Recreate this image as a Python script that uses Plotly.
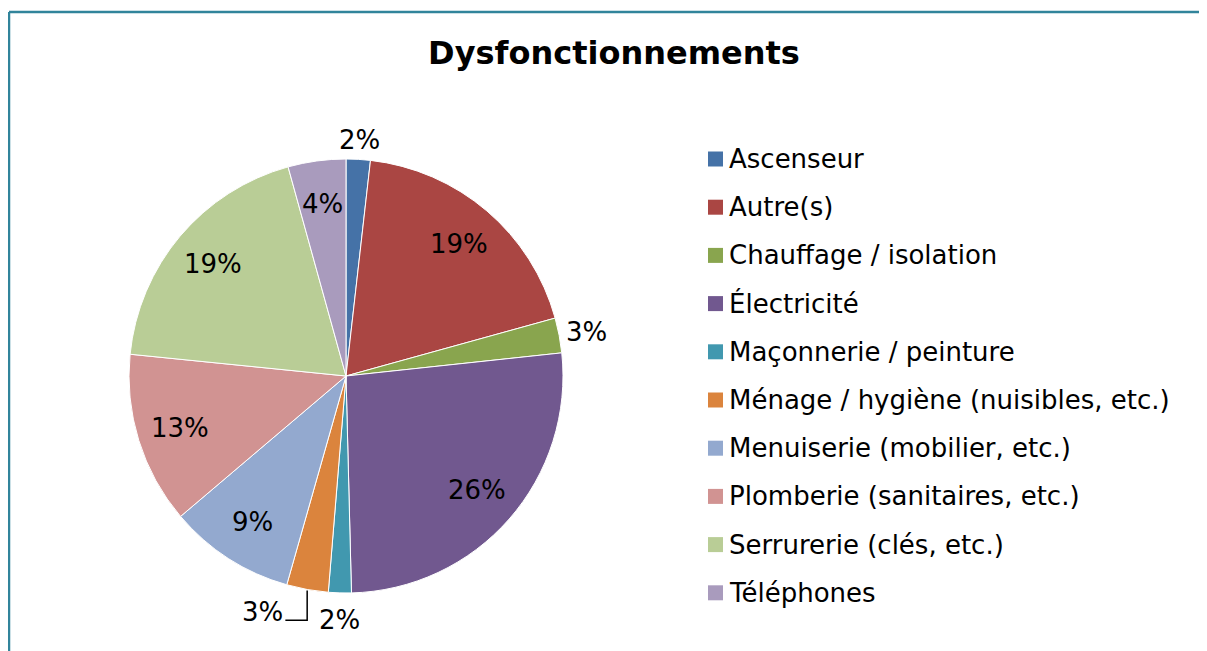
import math

import plotly.graph_objects as go

# la page html a une marge de 8 px : on travaille en pixels ecran
MARGE = 8
W, H = 1207 - MARGE, 651 - MARGE

categories = [
    "Ascenseur",
    "Autre(s)",
    "Chauffage / isolation",
    "Électricité",
    "Maçonnerie / peinture",
    "Ménage / hygiène (nuisibles, etc.)",
    "Menuiserie (mobilier, etc.)",
    "Plomberie (sanitaires, etc.)",
    "Serrurerie (clés, etc.)",
    "Téléphones",
]
values = [1.8, 18.9, 2.6, 26.3, 1.7, 3.1, 9.4, 12.8, 19.1, 4.3]
label_pos = ["outside", "inside", "outside", "inside", "outside",
             "outside", "inside", "inside", "inside", "inside"]

COULEURS = ["#4572A7", "#AA4643", "#89A54E", "#71588F", "#4198AF",
            "#DB843D", "#93A9CF", "#D19392", "#B9CD96", "#A99BBD"]
BORDURE = "#31849B"
FONT = "DejaVu Sans"
TAILLE = 26

# etiquettes deplacees (comme Excel) pour eviter le chevauchement
DECALAGE = {4: (0, 8), 5: (-40, 4)}
RAPPEL = {5}  # trait de rappel


def px_x(x):
    return (x - MARGE) / W


def px_y(y):
    return 1 - (y - MARGE) / H


# camembert : centre ~ (346, 376), rayon ~ 217 px
cx, cy, r = 346, 376, 217

fig = go.Figure(
    go.Pie(
        labels=categories,
        values=values,
        sort=False,
        direction="clockwise",
        rotation=0,
        marker=dict(colors=COULEURS, line=dict(color="white", width=1)),
        textinfo="none",
        domain=dict(x=[px_x(cx - r), px_x(cx + r)], y=[px_y(cy + r), px_y(cy - r)]),
        showlegend=False,
        hoverinfo="label+percent",
    )
)

shapes = []
annotations = []

# etiquettes de pourcentage, placees a partir des valeurs
total = sum(values)
cumul = 0
for i, v in enumerate(values):
    theta = math.radians((cumul + v / 2) / total * 360)
    cumul += v
    ux, uy = math.sin(theta), -math.cos(theta)
    texte = f"{round(v / total * 100)}%"
    if label_pos[i] == "inside":
        x, y = cx + 0.8 * r * ux, cy + 0.8 * r * uy
    else:
        w_txt, h_txt = 40, 22
        x = cx + (r + 8) * ux + ux * w_txt / 2
        y = cy + (r + 8) * uy + uy * h_txt / 2
        if i in DECALAGE:
            dx, dy = DECALAGE[i]
            x, y = x + dx, y + dy
        if i in RAPPEL:
            ex, ey = cx + (r + 1) * ux, cy + (r + 1) * uy
            shapes.append(dict(type="path", xref="paper", yref="paper",
                               path=f"M {px_x(ex)} {px_y(ey)} L {px_x(ex)} {px_y(y + 8)} "
                                    f"L {px_x(x + w_txt / 2 + 3)} {px_y(y + 8)}",
                               line=dict(color="#000000", width=1.5)))
    annotations.append(dict(text=texte, xref="paper", yref="paper", x=px_x(x), y=px_y(y),
                            xanchor="center", yanchor="middle", showarrow=False,
                            font=dict(family=FONT, size=TAILLE, color="#000000")))

# legende dessinee a la main (espacement Excel)
y0, pas = 159, 48.2
for i, (nom, coul) in enumerate(zip(categories, COULEURS)):
    yc = y0 + i * pas
    shapes.append(dict(type="rect", xref="paper", yref="paper",
                       x0=px_x(708), x1=px_x(723), y0=px_y(yc + 7.5), y1=px_y(yc - 7.5),
                       fillcolor=coul, line=dict(width=0)))
    annotations.append(dict(text=nom, xref="paper", yref="paper", x=px_x(727), y=px_y(yc),
                            xanchor="left", yanchor="middle", showarrow=False,
                            font=dict(family=FONT, size=TAILLE, color="#000000")))

# cadre du graphique (seuls les bords haut et gauche sont visibles)
shapes.append(dict(type="line", xref="paper", yref="paper", x0=px_x(9), x1=1.02,
                   y0=px_y(12), y1=px_y(12), line=dict(color=BORDURE, width=2.5)))
shapes.append(dict(type="line", xref="paper", yref="paper", x0=px_x(9), x1=px_x(9),
                   y0=px_y(12), y1=-0.02, line=dict(color=BORDURE, width=2.5)))

fig.update_layout(
    width=W,
    height=H,
    margin=dict(l=0, r=0, t=0, b=0),
    paper_bgcolor="white",
    plot_bgcolor="white",
    title=dict(text="Dysfonctionnements", x=px_x(614), y=px_y(53), xanchor="center",
               yanchor="middle", font=dict(family=FONT, size=32, color="#000000", weight="bold")),
    shapes=shapes,
    annotations=annotations,
)

fig.write_html("out.html")
